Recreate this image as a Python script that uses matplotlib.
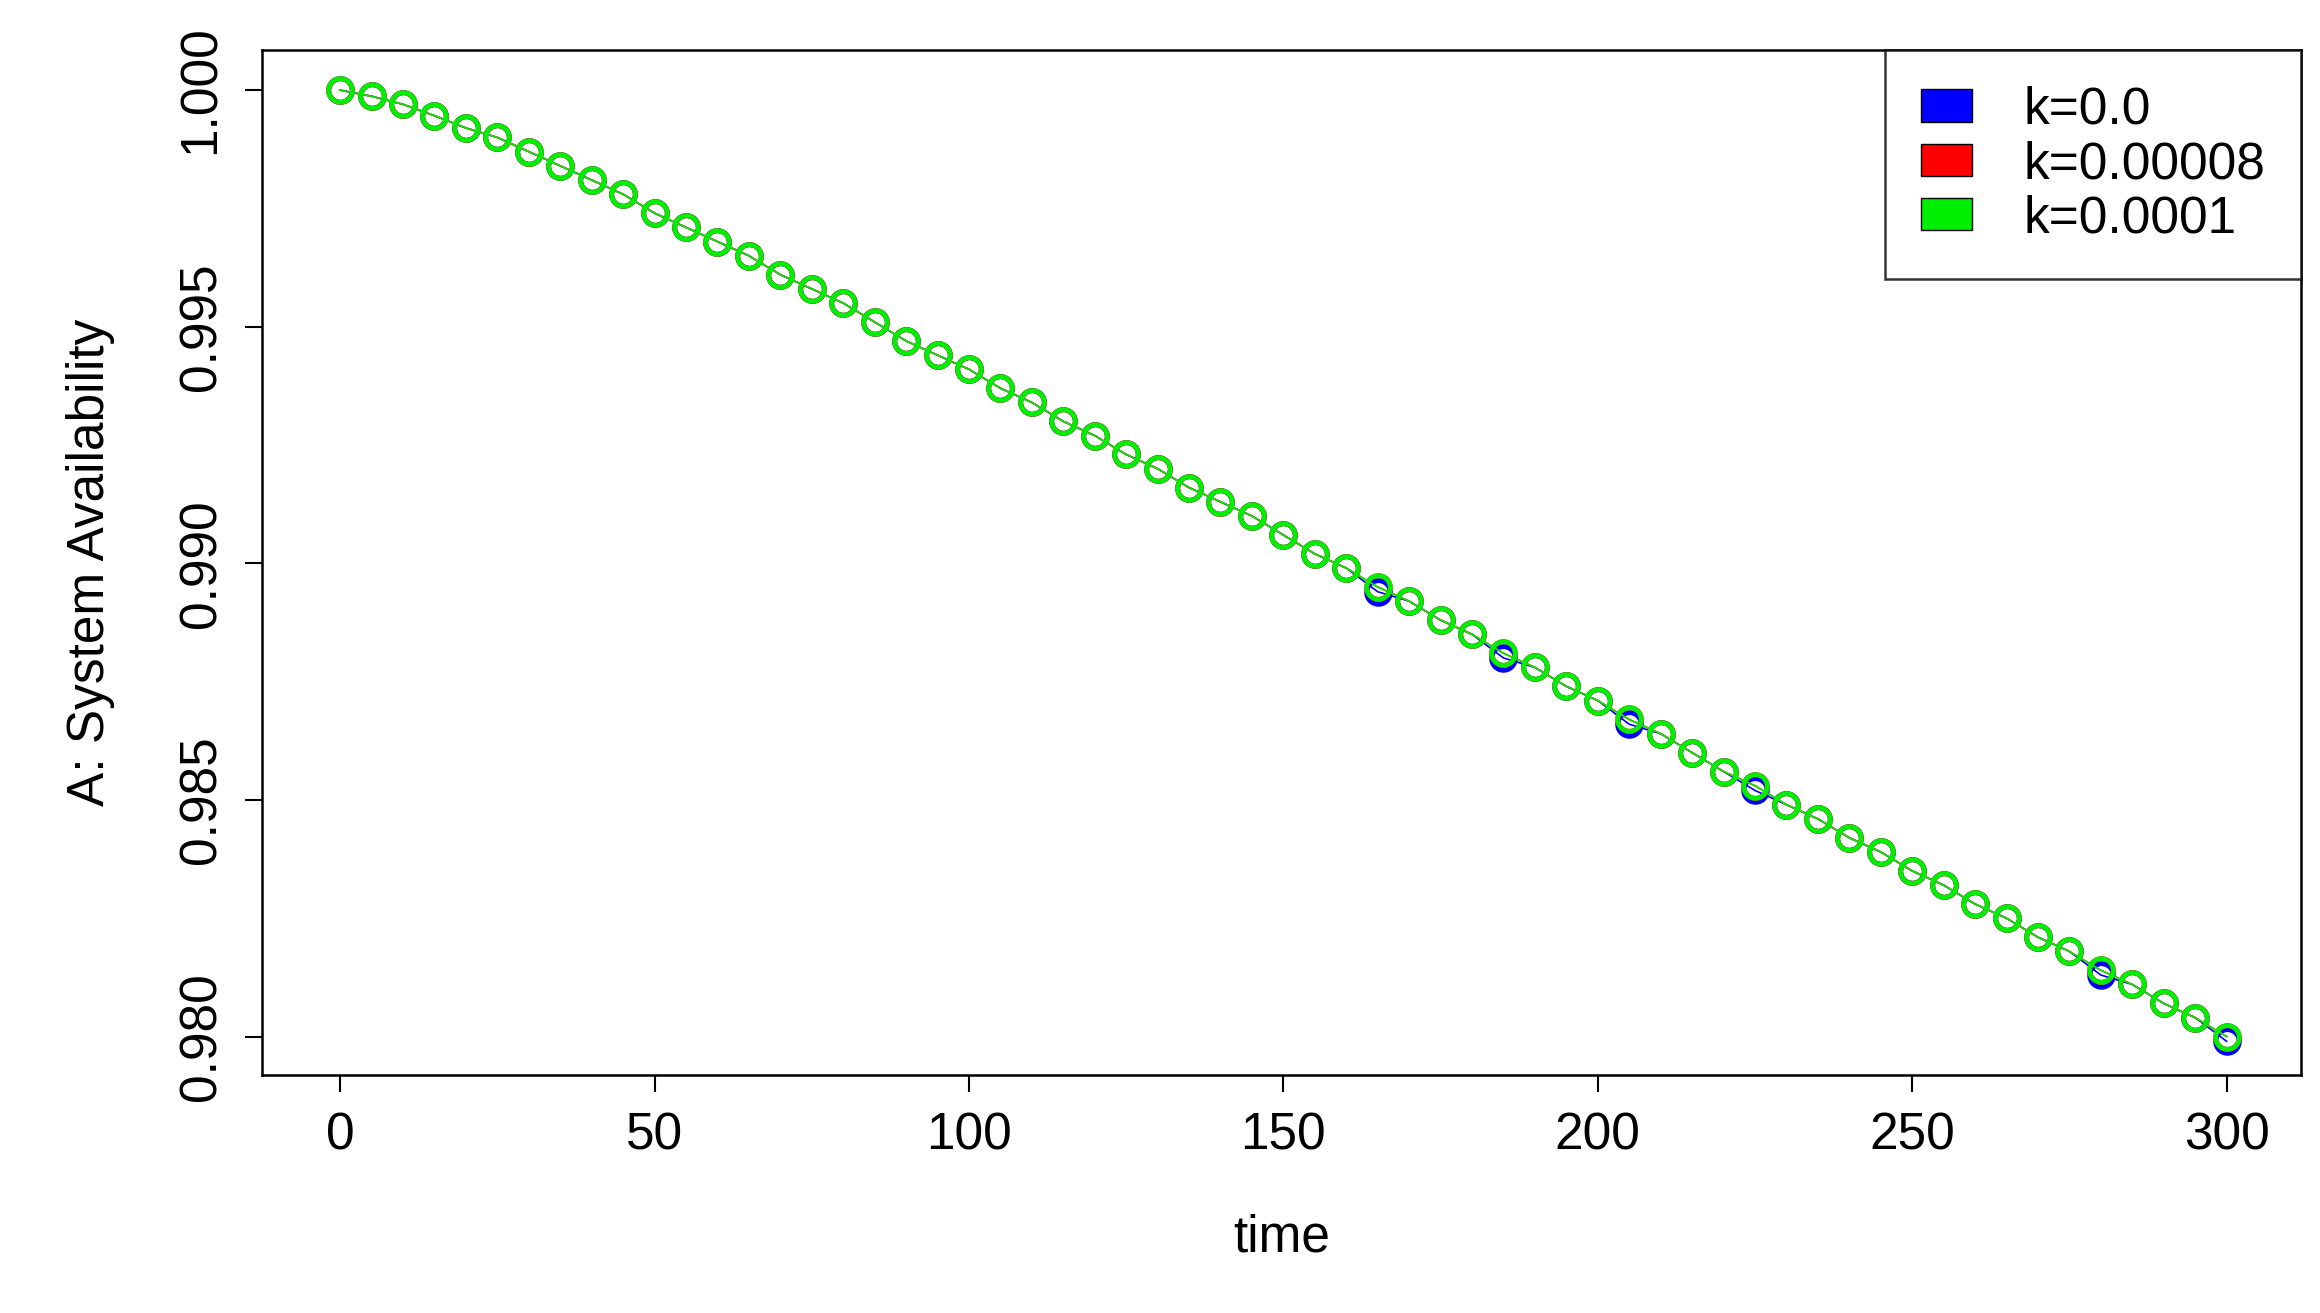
import matplotlib
matplotlib.use('Agg')
import matplotlib.pyplot as plt
from matplotlib.patches import Patch

plt.rcParams['font.family'] = ['Liberation Sans', 'DejaVu Sans']

time = list(range(0, 301, 5))
avail_k0 = [1.0000, 0.99987, 0.9997, 0.99946, 0.9992, 0.9990, 0.9987, 0.9984, 0.9981, 0.9978,
            0.9974, 0.9971, 0.9968, 0.9965, 0.9961, 0.9958, 0.9955, 0.9951, 0.9947, 0.9944,
            0.9941, 0.9937, 0.9934, 0.9930, 0.9927, 0.9923, 0.9920, 0.9916, 0.9913, 0.9910,
            0.9906, 0.9902, 0.9899, 0.9894, 0.9892, 0.9888, 0.9885, 0.9880, 0.9878, 0.9874,
            0.9871, 0.9866, 0.9864, 0.9860, 0.9856, 0.9852, 0.9849, 0.9846, 0.9842, 0.9839,
            0.9835, 0.9832, 0.9828, 0.9825, 0.9821, 0.9818, 0.9813, 0.9811, 0.9807, 0.9804, 0.9799]
avail_k8 = [1.0000, 0.99987, 0.9997, 0.99946, 0.9992, 0.9990, 0.9987, 0.9984, 0.9981, 0.9978,
            0.9974, 0.9971, 0.9968, 0.9965, 0.9961, 0.9958, 0.9955, 0.9951, 0.9947, 0.9944,
            0.9941, 0.9937, 0.9934, 0.9930, 0.9927, 0.9923, 0.9920, 0.9916, 0.9913, 0.9910,
            0.9906, 0.9902, 0.9899, 0.9895, 0.9892, 0.9888, 0.9885, 0.9881, 0.9878, 0.9874,
            0.9871, 0.9867, 0.9864, 0.9860, 0.9856, 0.9853, 0.9849, 0.9846, 0.9842, 0.9839,
            0.9835, 0.9832, 0.9828, 0.9825, 0.9821, 0.9818, 0.9814, 0.9811, 0.9807, 0.9804, 0.9800]
avail_k1 = list(avail_k8)

series = [(avail_k0, '#0000ff', 'k=0.0'),
          (avail_k8, '#ff0000', 'k=0.00008'),
          (avail_k1, '#00ee00', 'k=0.0001')]

fig = plt.figure(figsize=(23.2, 13.13), dpi=100)
ax = fig.add_axes([0.113, 0.181, 0.879, 0.781])
for vals, col, lab in series:
    ax.plot(time, vals, color=col, lw=1.2, marker='o', markersize=17,
            markerfacecolor='none', markeredgecolor=col, markeredgewidth=3.5)

ax.set_xlim(-12.4, 311.9)
ax.set_ylim(0.97918, 1.00085)
ax.set_xticks([0, 50, 100, 150, 200, 250, 300])
ax.set_yticks([0.980, 0.985, 0.990, 0.995, 1.000])
ax.set_yticklabels(['0.980', '0.985', '0.990', '0.995', '1.000'], rotation=90, va='center')
ax.tick_params(labelsize=37, length=12, width=1.5, pad=14)
for s in ax.spines.values():
    s.set_linewidth(1.8)
ax.set_xlabel('time', fontsize=37, labelpad=38)
ax.set_ylabel('A: System Availability', fontsize=37, labelpad=45)

handles = [Patch(facecolor=c, edgecolor='black', label=l) for _, c, l in series]
leg = ax.legend(handles=handles, loc='upper right', fontsize=37, frameon=True, fancybox=False,
                borderaxespad=0, handlelength=1.0, handleheight=0.6, handletextpad=1.0,
                borderpad=0.7, labelspacing=0.1)
leg.get_frame().set_edgecolor('black')
leg.get_frame().set_linewidth(1.8)

fig.savefig('out.png', dpi=100)
